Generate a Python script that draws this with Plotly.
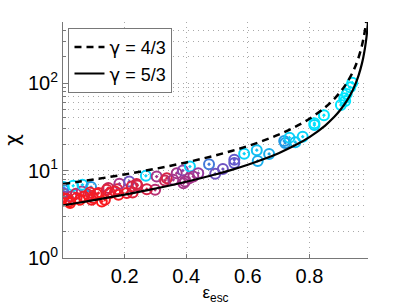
import plotly.graph_objects as go

# Theoretical curves
eps_curve_43 = [0.0, 0.05, 0.1, 0.15, 0.2, 0.25, 0.3, 0.35, 0.4, 0.45, 0.5, 0.55, 0.6, 0.65,
                0.7, 0.75, 0.8, 0.85, 0.88, 0.9, 0.92, 0.94, 0.95, 0.96, 0.97, 0.975, 0.98, 0.984]
chi_curve_43 = [7.0, 7.43, 7.9, 8.44, 9.03, 9.71, 10.47, 11.36, 12.39, 13.61, 15.07, 16.85, 19.08, 21.95,
                25.76, 31.1, 39.1, 52.4, 65.8, 79.1, 99.1, 132.5, 159.1, 199.1, 265.8, 319.1, 399.1, 499.0]
eps_curve_53 = [0.0, 0.05, 0.1, 0.15, 0.2, 0.25, 0.3, 0.35, 0.4, 0.45, 0.5, 0.55, 0.6, 0.65,
                0.7, 0.75, 0.8, 0.85, 0.88, 0.9, 0.92, 0.94, 0.95, 0.96, 0.97, 0.975, 0.98, 0.985, 0.99]
chi_curve_53 = [4.0, 4.28, 4.59, 4.93, 5.31, 5.74, 6.23, 6.79, 7.44, 8.21, 9.12, 10.24, 11.64, 13.44,
                15.82, 19.17, 24.17, 32.5, 40.9, 49.2, 61.7, 82.5, 99.2, 124.2, 165.9, 199.2, 249.2, 332.5, 499.0]

# Data points: escape efficiency, compression ratio, colour value (0 red -> 1 cyan)
eps_pts = [0.002, 0.001, 0.001, 0.003, 0.0, 0.020, 0.028, 0.033, 0.042, 0.061, 0.063, 0.068, 0.082,
           0.091, 0.098, 0.115, 0.126, 0.147, 0.153, 0.176, 0.180, 0.183, 0.215, 0.223, 0.239, 0.269,
           0.304, 0.299, 0.331, 0.337, 0.369, 0.389, 0.412, 0.396, 0.423, 0.439, 0.055, 0.093, 0.012,
           0.023, 0.044, 0.088, 0.109, 0.136, 0.142, 0.169, 0.207, 0.226, 0.241, 0.272, 0.358, 0.410,
           0.391, 0.474, 0.494, 0.519, 0.556, 0.556, 0.588, 0.629, 0.632, 0.669, 0.718, 0.721, 0.735,
           0.754, 0.778, 0.816, 0.816, 0.847, 0.902, 0.913, 0.921, 0.932, 0.939, 0.916]
chi_pts = [6.47, 6.02, 5.52, 5.05, 4.84, 4.43, 5.05, 6.69, 5.42, 5.75, 6.87, 5.05, 5.28,
           6.47, 4.84, 5.52, 4.43, 6.30, 5.52, 6.13, 5.28, 7.05, 7.49, 6.57, 7.00, 8.70,
           8.54, 6.02, 7.69, 8.19, 9.34, 10.0, 11.1, 7.49, 8.54, 9.34, 4.63, 4.63, 4.72,
           4.25, 4.84, 5.61, 5.38, 4.63, 6.02, 5.75, 5.52, 5.61, 6.74, 6.13, 7.83, 8.19,
           7.18, 11.8, 9.17, 10.4, 13.3, 12.2, 15.6, 17.1, 12.9, 15.5, 21.8, 20.7, 23.8,
           21.1, 24.4, 33.2, 34.8, 42.9, 56.2, 67.0, 75.1, 89.6, 101.0, 62.5]
col_pts = [0.95, 0.75, 0.6, 0.45, 0.1, 0.0, 0.3, 1.0, 0.25, 0.35, 0.95, 0.05, 0.1,
           0.8, 0.05, 0.1, 0.0, 0.25, 0.05, 0.15, 0.05, 0.35, 0.55, 0.2, 0.2, 0.95,
           0.35, 0.3, 0.25, 0.2, 0.35, 0.45, 0.95, 0.35, 0.35, 0.4, 0.0, 0.05, 0.05,
           0.0, 0.05, 0.1, 0.05, 0.05, 0.15, 0.1, 0.1, 0.15, 0.2, 0.2, 0.35, 0.35,
           0.35, 0.7, 0.55, 0.55, 0.6, 0.6, 0.95, 0.9, 0.85, 0.85, 0.8, 0.8, 0.95,
           0.9, 0.95, 0.95, 1.0, 1.0, 1.0, 1.0, 1.0, 1.0, 1.0, 1.0]

x_ticks = [0.2, 0.4, 0.6, 0.8]
y_ticks = [1, 10, 100]
y_ticktext = ["10<sup>0</sup>", "10<sup>1</sup>", "10<sup>2</sup>"]

colorscale = [[0.0, "rgb(255,25,25)"], [0.2, "rgb(215,35,70)"], [0.4, "rgb(150,60,160)"],
              [0.6, "rgb(100,90,205)"], [0.8, "rgb(35,155,230)"], [1.0, "rgb(0,230,255)"]]

greek = "<span style='font-family:DejaVu Sans'>{}</span>"

fig = go.Figure()
fig.add_trace(go.Scatter(
    x=eps_pts, y=chi_pts, mode="markers", showlegend=False,
    marker=dict(symbol="circle-open-dot", size=10, color=col_pts, colorscale=colorscale,
                cmin=0, cmax=1, line=dict(width=2))))
fig.add_trace(go.Scatter(
    x=eps_curve_43, y=chi_curve_43, mode="lines", name=greek.format("γ") + " = 4/3",
    line=dict(color="black", width=2.5, dash="7px,5px", shape="spline")))
fig.add_trace(go.Scatter(
    x=eps_curve_53, y=chi_curve_53, mode="lines", name=greek.format("γ") + " = 5/3",
    line=dict(color="black", width=2.2, shape="spline")))

grid_col = "rgb(170,170,170)"
axis_col = "rgb(120,120,120)"
fig.update_layout(
    width=407, height=307,
    margin=dict(l=63, r=39, t=22, b=49, autoexpand=False),
    paper_bgcolor="white", plot_bgcolor="white",
    font=dict(family="Liberation Sans, Arial, sans-serif", color="black", size=20),
    showlegend=True,
    legend=dict(x=0.018, y=0.975, xanchor="left", yanchor="top",
                bgcolor="white", bordercolor=axis_col, borderwidth=1,
                font=dict(size=18), tracegroupgap=0, itemwidth=30),
    xaxis=dict(range=[0, 0.99], tickvals=x_ticks, ticktext=[str(v) for v in x_ticks],
               showgrid=True, gridcolor=grid_col, griddash="1px,4px", gridwidth=1,
               showline=True, linecolor=axis_col, linewidth=1,
               ticks="inside", ticklen=4, tickcolor=axis_col,
               zeroline=False, mirror=False, automargin=False,
               tickfont=dict(size=20),
               title=dict(text="ε<sub>esc</sub>", standoff=0, font=dict(size=17))),
    yaxis=dict(type="log", range=[0, 2.69897], tickvals=y_ticks, ticktext=y_ticktext,
               showgrid=True, gridcolor=grid_col, griddash="1px,4px", gridwidth=1,
               minor=dict(dtick="D1", showgrid=True, gridcolor=grid_col, griddash="1px,4px",
                          ticks="inside", ticklen=3, tickcolor=axis_col),
               showline=True, linecolor=axis_col, linewidth=1,
               ticks="inside", ticklen=5, tickcolor=axis_col,
               zeroline=False, mirror=False, automargin=False,
               tickfont=dict(size=20),
               title=dict(text=greek.format("χ"), standoff=8, font=dict(size=20))),
)

fig.write_html("out.html", config={"displayModeBar": False},
               post_script="document.body.style.margin='0px';document.body.style.overflow='hidden';")
